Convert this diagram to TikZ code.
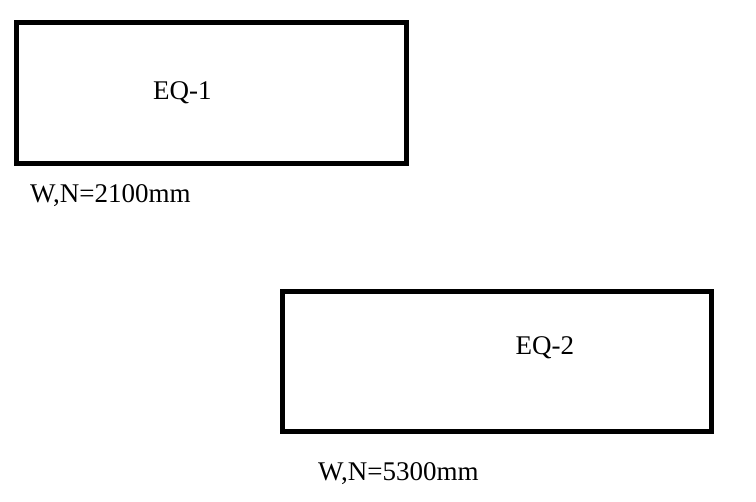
\documentclass[tikz,border=0pt]{standalone}
\usepackage{fontspec}
\setmainfont{Liberation Serif}
\usepackage{tikz}
\usetikzlibrary{positioning}

\tikzset{
	eqbox/.style={draw, line width=5pt, rectangle, inner sep=0pt},
	eqtext/.style={anchor=base west, inner sep=0pt, font=\fontsize{27}{32}\selectfont}
}

\begin{document}
\begin{tikzpicture}[x=1pt, y=-1pt]
		\useasboundingbox (0,0) rectangle (756,502);
		% 设备 1
		\node[eqbox, minimum width=390pt, minimum height=141pt] (eq1) at (211.5,93) {};
		\node[eqtext] (eq1name) at (153,100) {EQ-1};
		\node[eqtext] (eq1size) at (30,203) {W,N=2100mm};
		% 设备 2
		\node[eqbox, minimum width=429pt, minimum height=139.5pt] (eq2) at (496.5,361.75) {};
		\node[eqtext] (eq2name) at (515.5,354.5) {EQ-2};
		\node[eqtext] (eq2size) at (318,481) {W,N=5300mm};
	\end{tikzpicture}
\end{document}
